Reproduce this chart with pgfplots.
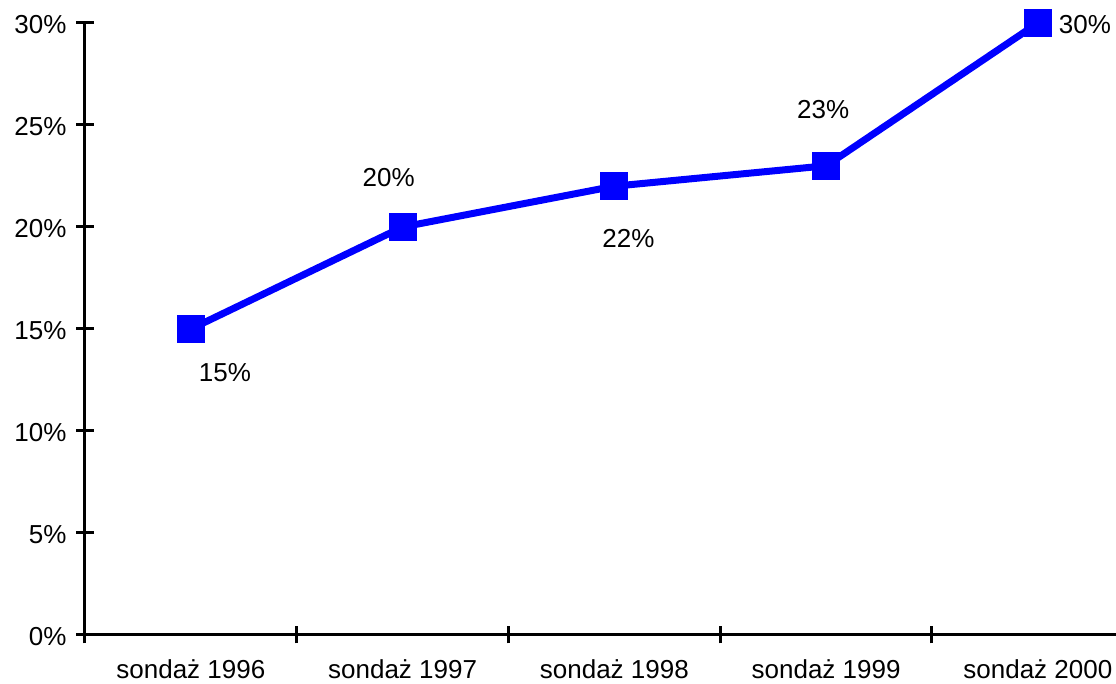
\documentclass[border=0pt]{standalone}
\usepackage{fontspec}
\setmainfont{Liberation Sans}
\usepackage{pgfplots}
\pgfplotsset{compat=1.18}

\begin{document}
\begin{tikzpicture}[font=\fontsize{13pt}{15pt}\selectfont]
\begin{axis}[
  name=ax, scale only axis, width=515.5pt, height=306pt,
  xmin=-0.5, xmax=4.369, ymin=0, ymax=30,
  axis x line=bottom, axis y line=left,
  axis line style={-, line width=1.5pt},
  xtick={-0.5,0.5,1.5,2.5,3.5}, xticklabels={},
  extra x ticks={0,1,2,3,4},
  extra x tick labels={sondaż 1996,sondaż 1997,sondaż 1998,sondaż 1999,sondaż 2000},
  extra x tick style={major tick length=0pt},
  xticklabel style={yshift=-9pt},
  yticklabel style={xshift=-1.5pt, yshift=-1pt},
  ytick={0,5,...,30}, yticklabel={\pgfmathprintnumber{\tick}\%},
  tick align=center, major tick length=8.5pt,
  tick style={line width=1.5pt, black},
  /pgf/number format/assume math mode=true,
  tick label style={font=\fontsize{13pt}{15pt}\selectfont},
  clip=false,
]
\addplot[blue, line width=3.5pt, mark=square*, mark size=6.75pt,
  mark options={solid, fill=blue, line width=0pt}] coordinates {
  (0,15) (1,20) (2,22) (3,23) (4,30)};
\node at (axis cs:0,15) [xshift=17pt, yshift=-22pt] {15\%};
\node at (axis cs:1,20) [xshift=-7pt, yshift=24.5pt] {20\%};
\node at (axis cs:2,22) [xshift=7pt, yshift=-26pt] {22\%};
\node at (axis cs:3,23) [xshift=-1.5pt, yshift=28pt] {23\%};
\node at (axis cs:4,30) [xshift=23.5pt, yshift=-1pt] {30\%};
\end{axis}
\path (ax.south west) ++(-42.5pt,-24.5pt) coordinate (bl);
\path (ax.north east) ++(0pt,11.5pt) coordinate (tr);
\pgfresetboundingbox
\path (bl) rectangle (tr);
\end{tikzpicture}
\end{document}
